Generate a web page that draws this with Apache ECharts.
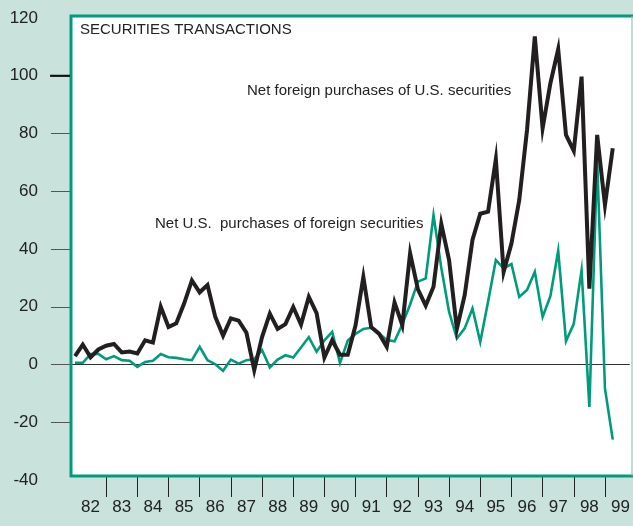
<!DOCTYPE html>
<html>
<head>
<meta charset="utf-8">
<script src="https://cdn.jsdelivr.net/npm/echarts@6/dist/echarts.min.js"></script>
<style>
html,body{margin:0;padding:0;background:#c9e3dc;}
#chart{width:633px;height:526px;}
</style>
</head>
<body>
<div id="chart"></div>
<script>
// Quarterly data, 1982 Q1 through 1999 Q2 (billions of dollars)
const startYear = 1982;
const yearLabels = ['82','83','84','85','86','87','88','89','90','91','92','93','94','95','96','97','98','99'];
const foreignPurchasesOfUS = [
  2.9, 6.9, 2.5, 5.2, 6.5, 7.1, 4.2, 4.5, 3.8, 8.4,
  7.6, 20.0, 13.0, 14.3, 21.1, 29.1, 25.0, 27.5, 16.5, 10.0,
  16.0, 15.2, 11.0, -1.9, 9.5, 17.6, 12.3, 14.0, 19.9, 13.8,
  23.4, 17.8, 2.4, 8.4, 3.4, 3.4, 13.6, 30.3, 13.0, 10.7,
  6.1, 21.5, 13.6, 38.5, 26.0, 20.4, 26.9, 48.7, 36.2, 12.3,
  24.0, 43.1, 52.2, 52.9, 71.1, 32.1, 41.9, 56.9, 81.2, 113.6,
  81.8, 97.4, 109.2, 79.5, 74.0, 99.7, 26.3, 79.5, 55.2, 74.9
];
const usPurchasesOfForeign = [
  0.6, 0.6, 3.6, 3.7, 1.8, 2.9, 1.5, 1.3, -0.8, 0.9,
  1.3, 3.6, 2.5, 2.3, 1.8, 1.5, 6.1, 1.5, 0.1, -2.2,
  1.7, 0.3, 1.5, 1.8, 5.0, -1.0, 1.7, 3.2, 2.4, 5.9,
  9.5, 4.4, 8.4, 11.3, 0.5, 8.3, 10.6, 12.3, 12.7, 10.8,
  8.5, 8.0, 13.9, 20.8, 28.7, 29.8, 51.7, 33.5, 18.2, 9.0,
  12.5, 19.4, 7.8, 21.7, 36.2, 33.3, 34.8, 23.4, 25.8, 32.1,
  16.5, 23.7, 39.4, 8.1, 14.1, 32.7, -14.7, 70.8, -8.3, -26.0
];
const yTickValues = [-20, 0, 20, 40, 60, 80, 100];
const titleText = 'SECURITIES TRANSACTIONS';
const label1 = 'Net foreign purchases of U.S. securities';
const label2 = 'Net U.S.  purchases of foreign securities';

const toXY = arr => arr.map((v, i) => [startYear + i / 4, v]);
const yearTicks = yearLabels.map((_, i) => startYear + i + 1).slice(0, yearLabels.length - 1);
const yearLabelPos = yearLabels.map((_, i) => startYear + i + 0.5);

const TEAL = '#009b7d';
const INK = '#231f20';
const FONT = '"Liberation Sans", Arial, Helvetica, sans-serif';

const chart = echarts.init(document.getElementById('chart'), null, {renderer: 'canvas'});
const option = {
  backgroundColor: '#c9e3dc',
  animation: false,
  grid: {left: 71, right: 1, top: 18, bottom: 46, containLabel: false},
  xAxis: {
    type: 'value',
    min: 1981.872,
    max: 1999.796,
    offset: -4,
    axisLine: {show: false, onZero: false},
    splitLine: {show: false},
    axisTick: {show: true, length: 21, customValues: yearTicks, lineStyle: {color: '#222', width: 1}},
    axisLabel: {
      customValues: yearLabelPos,
      margin: 23,
      fontSize: 17,
      fontFamily: FONT,
      color: '#222',
      formatter: v => yearLabels[Math.floor(v) - startYear]
    }
  },
  yAxis: {
    type: 'value',
    min: -40,
    max: 120,
    interval: 20,
    axisLine: {show: false},
    splitLine: {show: false},
    axisTick: {show: true, length: 20, customValues: yTickValues, lineStyle: {color: '#555', width: 1}},
    axisLabel: {margin: 33, fontSize: 17, fontFamily: FONT, color: '#222'}
  },
  graphic: [
    {type: 'rect', z: -10, shape: {x: 71, y: 16, width: 562, height: 460}, style: {fill: '#ffffff'}},
    {type: 'polyline', z: 50, shape: {points: [[634, 16], [71, 16], [71, 476], [634, 476]]}, style: {stroke: TEAL, lineWidth: 3, fill: null}},
    {type: 'line', z: 50, shape: {x1: 632, y1: 16, x2: 632, y2: 476}, style: {stroke: '#6cc4ad', lineWidth: 1}},
    {type: 'text', z: 60, x: 80, y: 22, style: {text: titleText, font: '15px ' + FONT, fill: '#222'}},
    {type: 'text', z: 60, x: 247, y: 83, style: {text: label1, font: '15px ' + FONT, fill: '#222'}},
    {type: 'text', z: 60, x: 155, y: 216, style: {text: label2, font: '15px ' + FONT, fill: '#222'}}
  ],
  series: [
    {
      type: 'line',
      name: 'Net U.S. purchases of foreign securities',
      data: toXY(usPurchasesOfForeign),
      symbol: 'none',
      lineStyle: {color: TEAL, width: 2.6, join: 'miter'},
      z: 3
    },
    {
      type: 'line',
      name: 'Net foreign purchases of U.S. securities',
      data: toXY(foreignPurchasesOfUS),
      symbol: 'none',
      lineStyle: {color: INK, width: 4, join: 'miter'},
      z: 4,
      markLine: {
        silent: true,
        symbol: 'none',
        label: {show: false},
        lineStyle: {color: '#333', width: 1, type: 'solid'},
        data: [{yAxis: 0}],
        z: 1
      }
    }
  ]
};
chart.setOption(option);
// emphasised tick at 100
const p100 = chart.convertToPixel({yAxisIndex: 0}, 100);
chart.setOption({graphic: option.graphic.concat([
  {type: 'line', z: 60, shape: {x1: 50, y1: p100, x2: 70, y2: p100}, style: {stroke: '#111', lineWidth: 2}}
])});
</script>
</body>
</html>
